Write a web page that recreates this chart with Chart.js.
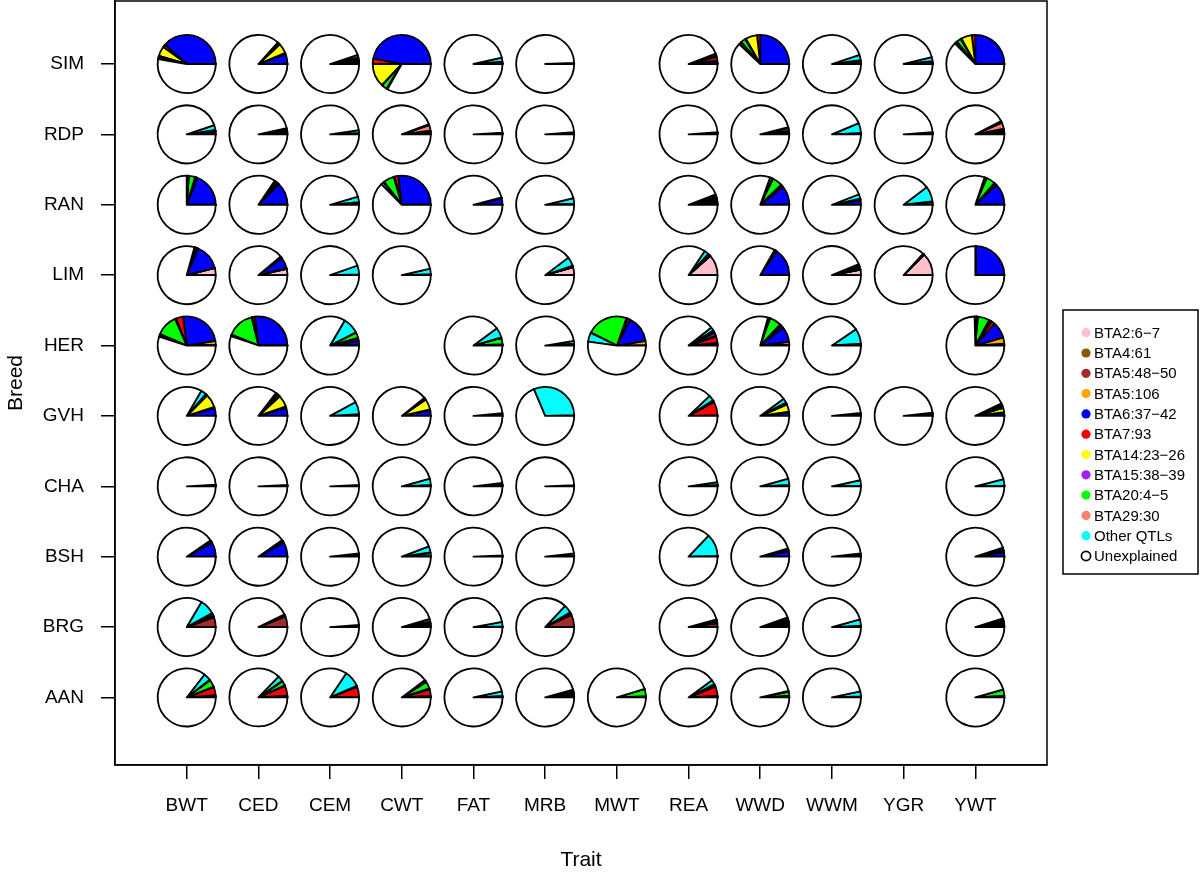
<!DOCTYPE html>
<html><head><meta charset="utf-8">
<script src="https://cdn.jsdelivr.net/npm/chart.js@4/dist/chart.umd.min.js"></script>
<style>html,body{margin:0;padding:0;background:#fff}#wrap{width:1200px;height:880px}</style>
</head><body><div id="wrap"><canvas id="c" width="1200" height="880"></canvas></div>
<script>
const FONT = '"Liberation Sans", Arial, Helvetica, sans-serif';
const traits = ['BWT','CED','CEM','CWT','FAT','MRB','MWT','REA','WWD','WWM','YGR','YWT'];
const breeds = ['AAN','BRG','BSH','CHA','GVH','HER','LIM','RAN','RDP','SIM']; // bottom to top
const qtlLabels = ['BTA2:6\u22127','BTA4:61','BTA5:48\u221250','BTA5:106','BTA6:37\u221242','BTA7:93','BTA14:23\u221226','BTA15:38\u221239','BTA20:4\u22125','BTA29:30','Other QTLs'];
const qtlColors = ['#FFC0CB','#8B5A00','#A52A2A','#FFA500','#0000FF','#FF0000','#FFFF00','#A020F0','#00FF00','#FA8072','#00FFFF'];
const unexplainedLabel = 'Unexplained';

// shares per trait (order of traits), each in qtlLabels order; null = no pie
const SIM = [
 [0,0,0,0,.385,.015,.055,0,.008,0,.01],
 [0,0,0,0,.055,.008,.055,0,.01,0,.005],
 [0,0,0,0,.015,.005,.003,0,.01,.003,.015],
 [0,0,0,0,.47,.03,.13,.003,.03,0,.005],
 [0,0,0,0,.005,0,0,0,.008,0,.022],
 [0,0,0,0,.002,0,0,0,0,0,.004],
 null,
 [0,.004,0,0,.015,.02,.005,0,.005,.005,.005],
 [0,0,0,0,.25,.018,.065,.005,.025,.005,.012],
 [0,0,0,0,.004,0,.012,0,.005,0,.03],
 [0,0,0,0,.006,0,0,0,.01,0,.022],
 [0,0,0,0,.25,.02,.06,.005,.025,.005,.01]
];
const RDP = [
 [0,0,0,0,.015,.002,0,0,.005,.002,.028],
 [0,0,0,0,.01,.004,0,0,.006,.004,.01],
 [0,0,0,0,.004,0,0,0,.004,0,.015],
 [0,0,0,0,.01,.004,.003,0,.004,.03,.006],
 [0,0,0,0,.005,0,0,0,0,0,.005],
 [0,0,0,0,.006,0,0,0,.003,0,.003],
 null,
 [0,0,0,0,.006,.003,0,0,.003,0,0],
 [0,0,0,0,.008,.006,0,0,.006,.015,.005],
 [0,0,0,0,.004,0,0,0,.004,0,.055],
 [0,0,0,0,.006,0,0,0,.003,0,.003],
 [0,0,.005,0,.01,.008,0,0,.008,.035,.01]
];
const RAN = [
 [0,0,0,0,.19,.01,0,.003,.035,.004,.008],
 [0,0,0,0,.125,.008,.005,0,.012,0,.005],
 [0,0,0,0,.008,.003,0,0,.004,0,.03],
 [0,0,0,0,.27,.02,.005,0,.06,.005,.015],
 [0,0,0,0,.035,0,0,0,.003,0,.003],
 [0,0,0,0,.006,0,0,0,0,0,.03],
 null,
 [0,.004,.006,0,.01,.008,.006,0,.008,.006,.01],
 [0,0,0,0,.105,.012,.005,0,.055,.005,.013],
 [0,0,0,0,.025,.004,0,0,.005,0,.025],
 [0,0,0,0,.004,0,0,0,.012,.003,.085],
 [0,0,0,0,.12,.012,.004,0,.05,.004,.008]
];
const LIM = [
 [.04,0,0,0,.145,.006,.008,0,.004,0,.004],
 [.035,0,.004,0,.06,.004,0,0,.004,0,.004],
 [0,0,0,0,.004,0,0,0,0,0,.05],
 [0,0,0,0,.003,0,0,0,.003,0,.03],
 null,
 [.045,0,0,0,.004,0,0,0,.004,0,.05],
 null,
 [.115,0,0,0,.004,.004,0,0,.004,.004,.025],
 [0,0,.004,0,.15,.006,0,0,.004,0,.004],
 [.03,0,0,0,.01,.006,.004,0,.006,0,.006],
 [.125,0,0,0,.004,0,0,0,0,0,.004],
 [0,0,.003,0,.245,0,0,0,0,0,.002]
];
const HER = [
 [0,0,.005,.02,.245,.04,.003,.003,.12,.003,.012],
 [0,0,0,0,.27,.015,.003,0,.15,.005,.005],
 [0,0,0,0,.025,.015,.003,0,.03,.003,.09],
 null,
 [0,0,0,0,.004,.003,0,0,.035,.004,.055],
 [0,0,0,0,.006,0,0,0,.004,0,.015],
 [0,0,0,.025,.15,.015,.003,.003,.23,.003,.05],
 [0,.004,.005,0,.006,.035,.005,.018,.008,.006,.02],
 [0,.003,.003,.015,.085,.015,.005,.004,.065,.004,.008],
 [0,0,0,0,.006,0,0,0,.004,0,.085],
 null,
 [0,.004,.006,.035,.09,.02,.004,.012,.065,.006,.012]
];
const GVH = [
 [0,0,0,0,.045,.006,.075,0,.006,.004,.03],
 [0,0,0,0,.045,.008,.065,.004,.012,.004,.008],
 [0,0,0,0,.006,0,0,0,.004,0,.07],
 [0,0,0,0,.03,.006,.06,0,.006,0,.005],
 [0,0,0,0,.008,.003,0,0,.004,0,0],
 [0,0,0,0,.004,0,0,0,0,0,.31],
 null,
 [0,0,0,0,.004,.075,.004,0,.004,.004,.03],
 [0,0,0,0,.018,.006,.04,0,.008,.004,.025],
 [0,0,0,0,.008,0,0,0,.004,0,.004],
 [0,0,0,0,.008,.004,0,0,.006,0,0],
 [0,0,0,0,.015,.005,.025,0,.01,.004,.012]
];
const CHA = [
 [0,0,0,0,.005,0,0,0,.004,0,0],
 [0,0,0,0,.004,0,0,0,.004,0,0],
 [0,0,0,0,.004,0,0,0,.004,0,0],
 [0,0,0,0,.004,0,0,0,.004,0,.035],
 [0,0,0,0,.006,0,0,0,.002,0,.01],
 [0,0,0,0,.003,0,0,0,.003,0,0],
 null,
 [0,0,0,0,.006,0,0,0,.002,0,.015],
 [0,0,0,0,.004,0,0,0,.003,0,.035],
 [0,0,0,0,.004,0,0,0,0,0,.03],
 null,
 [0,0,0,0,.004,0,0,0,0,0,.035]
];
const BSH = [
 [0,0,0,0,.08,.006,0,0,.005,0,.005],
 [0,0,0,0,.08,.006,0,0,.005,0,.006],
 [0,0,0,0,.008,.004,0,0,.006,0,0],
 [0,0,0,0,.004,0,0,0,.015,.004,.035],
 [0,0,0,0,.004,0,0,0,.003,0,0],
 [0,0,0,0,.006,0,0,0,0,0,.012],
 null,
 [0,0,0,0,.004,0,0,0,0,0,.125],
 [0,0,0,0,.03,.006,0,0,.006,0,.004],
 [0,0,0,0,.006,0,0,0,.004,0,.008],
 null,
 [0,0,0,0,.025,.008,.006,0,.008,0,.004]
];
const BRG = [
 [0,0,.055,0,.006,.006,.004,0,.006,.003,.085],
 [0,0,.06,0,.004,0,0,0,.004,0,.004],
 [0,0,0,0,.006,0,0,0,.006,0,0],
 [0,0,.003,0,.006,0,.01,0,.008,.004,.015],
 [0,0,0,0,.004,0,0,0,0,0,.025],
 [0,0,.07,0,.004,.004,0,0,.004,.003,.045],
 null,
 [0,0,.022,0,.006,.005,0,0,.006,0,.004],
 [0,0,.01,0,.008,.006,.006,0,.008,.004,.012],
 [0,0,.003,0,.004,0,0,0,0,0,.035],
 null,
 [0,0,.008,0,.01,.006,.006,0,.008,.004,.006]
];
const AAN = [
 [0,0,.006,0,.006,.045,.004,0,.04,.004,.04],
 [0,0,.004,0,.006,.055,.004,0,.025,.004,.03],
 [0,0,0,0,.004,.055,.003,0,.004,0,.09],
 [0,0,.004,0,.006,.035,.005,0,.04,.005,.008],
 [0,0,0,0,.005,0,0,0,.004,0,.025],
 [0,0,.006,0,.008,.008,.004,0,.01,0,.008],
 [0,0,0,0,.004,.003,0,0,.04,0,0],
 [0,0,.005,0,.005,.05,.004,0,.008,.004,.025],
 [0,0,0,0,.006,.004,0,0,.022,0,.004],
 [0,0,0,0,.006,0,0,0,0,0,.028],
 null,
 [0,0,0,0,.006,.004,0,0,.035,0,0]
];
const breedRows = {AAN, BRG, BSH, CHA, GVH, HER, LIM, RAN, RDP, SIM};

// anchor points for pies (positions computed by the library scales)
const anchors = [];
breeds.forEach((b, bi) => {
  breedRows[b].forEach((shares, ti) => {
    if (shares) anchors.push({x: ti + 1, y: bi + 1, shares});
  });
});

const piePlugin = {
  id: 'pies',
  beforeDatasetsDraw(chart) {
    const {ctx, chartArea: a} = chart;
    ctx.save();
    ctx.strokeStyle = '#000'; ctx.lineWidth = 1.5;
    ctx.strokeRect(a.left, a.top, a.right - a.left, a.bottom - a.top);
    ctx.restore();
  },
  afterDatasetsDraw(chart) {
    const ctx = chart.ctx, xs = chart.scales.x;
    const r = (xs.getPixelForValue(1) - xs.getPixelForValue(0)) * 0.405;
    const meta = chart.getDatasetMeta(0);
    const data = chart.data.datasets[0].data;
    const cols = qtlColors.concat(['#FFFFFF']);
    meta.data.forEach((el, i) => {
      const vals = data[i].shares.slice();
      const s = vals.reduce((p, q) => p + q, 0);
      vals.push(Math.max(0, 1 - s));
      const cx = el.x, cy = el.y;
      ctx.save();
      ctx.lineWidth = 1.8; ctx.strokeStyle = '#000'; ctx.lineJoin = 'round';
      let a0 = 0;
      vals.forEach((v, k) => {
        const a1 = a0 + v;
        ctx.beginPath();
        ctx.moveTo(cx, cy);
        if (v <= 0) {
          ctx.lineTo(cx + r * Math.cos(-a0 * 2 * Math.PI), cy + r * Math.sin(-a0 * 2 * Math.PI));
        } else {
          ctx.arc(cx, cy, r, -a0 * 2 * Math.PI, -a1 * 2 * Math.PI, true);
        }
        ctx.closePath();
        ctx.fillStyle = cols[k];
        if (v > 0) ctx.fill();
        ctx.stroke();
        a0 = a1;
      });
      ctx.restore();
    });
  },
  afterDraw(chart) {
    const ctx = chart.ctx, a = chart.chartArea;
    const left = a.right + 16, top = 310, w = 135, h = 264;
    ctx.save();
    ctx.strokeStyle = '#000'; ctx.lineWidth = 1.5;
    ctx.strokeRect(left, top, w, h);
    const labels = qtlLabels.concat([unexplainedLabel]);
    const step = 20.3, y0 = top + 22.7;
    ctx.font = '15px ' + FONT;
    ctx.textBaseline = 'middle'; ctx.textAlign = 'left';
    labels.forEach((lab, k) => {
      const y = y0 + k * step;
      ctx.beginPath();
      ctx.arc(left + 23, y, 4.6, 0, 2 * Math.PI);
      if (k < qtlColors.length) { ctx.fillStyle = qtlColors[k]; ctx.fill(); }
      else { ctx.lineWidth = 1.7; ctx.strokeStyle = '#000'; ctx.stroke(); }
      ctx.fillStyle = '#000';
      ctx.fillText(lab, left + 31, y + 1);
    });
    ctx.restore();
  }
};

new Chart(document.getElementById('c'), {
  type: 'scatter',
  data: { datasets: [{ label: 'pies', data: anchors, pointRadius: 0, pointHoverRadius: 0 }] },
  options: {
    responsive: false, animation: false, devicePixelRatio: 1,
    layout: { padding: { top: 1, right: 153, left: 0, bottom: 0 } },
    plugins: { legend: { display: false }, tooltip: { enabled: false } },
    events: [],
    scales: {
      x: {
        type: 'linear', min: 0, max: 13,
        afterBuildTicks(ax) { ax.ticks = traits.map((t, i) => ({ value: i + 1 })); },
        afterFit(ax) { ax.height = 115; ax.paddingLeft = 0; ax.paddingRight = 0; ax.paddingTop = 0; ax.paddingBottom = 0; },
        ticks: { callback: v => traits[v - 1] || '', color: '#000', font: { family: FONT, size: 19 }, padding: 15, maxRotation: 0, autoSkip: false },
        grid: { display: true, drawOnChartArea: false, drawTicks: true, tickLength: 14, color: '#000', lineWidth: 1.5 },
        border: { display: true, color: '#000', width: 1.5 },
        title: { display: true, text: 'Trait', color: '#000', font: { family: FONT, size: 21 }, padding: { top: 0, bottom: 7 } }
      },
      y: {
        type: 'linear', min: 0.04, max: 10.895,
        afterBuildTicks(ax) { ax.ticks = breeds.map((b, i) => ({ value: i + 1 })); },
        afterFit(ax) { ax.width = 115; ax.paddingLeft = 0; ax.paddingRight = 0; ax.paddingTop = 0; ax.paddingBottom = 0; },
        ticks: { callback: v => breeds[v - 1] || '', color: '#000', font: { family: FONT, size: 19 }, padding: 17, autoSkip: false },
        grid: { display: true, drawOnChartArea: false, drawTicks: true, tickLength: 14, color: '#000', lineWidth: 1.5 },
        border: { display: true, color: '#000', width: 1.5 },
        title: { display: true, text: 'Breed', color: '#000', font: { family: FONT, size: 21 }, padding: { top: 4, bottom: 0 } }
      }
    }
  },
  plugins: [piePlugin]
});
</script>
</body></html>
